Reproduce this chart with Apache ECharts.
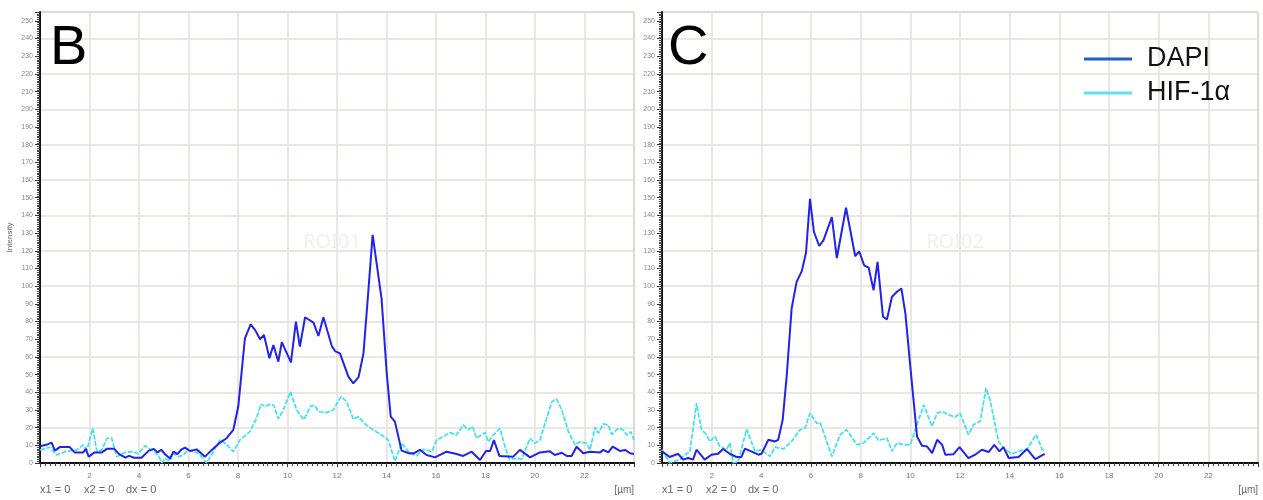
<!DOCTYPE html>
<html>
<head>
<meta charset="utf-8">
<script src="https://cdn.jsdelivr.net/npm/echarts@6/dist/echarts.min.js"></script>
<style>html,body{margin:0;padding:0;background:#fff}#c{width:1263px;height:500px}</style>
</head>
<body>
<div id="c"></div>
<script>
// Panel B (ROI01) profiles: [position µm, intensity]
var bDapi = [[0,9.5],[0.3,10.5],[0.47,11.5],[0.6,7],[0.8,9],[1.2,9],[1.4,6],[1.75,6],[1.85,8],[1.97,3.5],[2.2,6],[2.5,6],[2.7,8],[3.0,8],[3.2,5],[3.45,3],[3.6,4],[3.8,3],[4.1,3],[4.4,7],[4.6,8],[4.75,6],[4.9,7.5],[5.05,5],[5.25,2.5],[5.4,6.5],[5.55,5],[5.7,7.5],[5.86,8.7],[6.06,6.8],[6.33,7.7],[6.67,3.6],[6.94,7.4],[7.27,11.5],[7.54,14],[7.81,18.7],[8.01,31.9],[8.15,52],[8.28,70.5],[8.51,78.4],[8.7,75],[8.89,70],[9.05,72.4],[9.27,59.2],[9.43,66.7],[9.63,57.3],[9.77,68.3],[10.14,56.9],[10.34,79.9],[10.5,65.8],[10.71,82.4],[11.05,79.4],[11.25,71.8],[11.45,82.4],[11.79,66.2],[11.92,63.3],[12.12,62],[12.46,48.8],[12.66,45],[12.87,48.5],[13.07,62],[13.27,97.9],[13.44,129],[13.6,113],[13.8,93],[14.01,50.7],[14.17,26.2],[14.34,23.4],[14.61,7],[14.9,5.5],[15.1,5.5],[15.35,7.4],[15.62,4.5],[15.96,3.2],[16.43,6.4],[16.83,5.1],[17.1,4],[17.44,6.4],[17.78,1.7],[18.02,6.8],[18.19,6.8],[18.34,13],[18.56,4],[19.12,3.6],[19.39,7.4],[19.8,3.2],[20.2,6],[20.6,6.6],[20.8,4.5],[21.08,5.8],[21.28,4],[21.48,4],[21.68,9.2],[21.95,5.5],[22.22,6.4],[22.63,6],[22.76,7.4],[22.96,6],[23.14,9.2],[23.43,6.8],[23.64,7.4],[23.84,5.5],[24,5.1]];
var bHif = [[0,7.4],[0.4,8.9],[0.67,4.5],[1.0,6.4],[1.48,7.4],[1.75,10.2],[1.9,7.4],[2.13,19.6],[2.3,6.4],[2.5,7.4],[2.7,14],[2.9,14],[3.1,3.6],[3.43,6],[3.77,6.4],[3.97,5.1],[4.24,9.8],[4.5,7.4],[4.78,4.5],[4.92,0],[5.05,2.6],[5.25,1.1],[5.39,5.5],[5.59,3.6],[5.79,4.5],[5.99,7.4],[6.33,6],[6.6,2.6],[6.73,0],[7.0,6.4],[7.27,13],[7.54,10.6],[7.81,6.4],[8.08,13],[8.48,17.7],[8.75,25.3],[8.93,33.3],[9.09,31.9],[9.29,33.2],[9.45,32.5],[9.63,25],[9.83,30],[10.12,40.3],[10.37,30],[10.66,24.5],[10.95,32.5],[11.11,32.4],[11.25,29],[11.58,28.5],[11.85,30],[12.16,37.5],[12.39,34.7],[12.66,24.7],[12.86,26.2],[13.13,22.1],[13.47,18.7],[13.8,15.8],[14.07,13],[14.34,1],[14.61,11.3],[14.95,5.3],[15.22,4.2],[15.49,7.7],[15.83,6.4],[16.03,13],[16.3,14.9],[16.56,17.2],[16.83,15.8],[17.1,21.5],[17.3,18.7],[17.48,20.6],[17.64,14],[17.98,17.2],[18.11,12],[18.32,15.8],[18.58,19.6],[18.79,9.2],[18.96,2.1],[19.26,2.6],[19.46,2.1],[19.8,14],[20.0,11.1],[20.2,13],[20.68,34.7],[20.87,36.2],[21.08,30],[21.35,17.7],[21.62,10.2],[21.82,12],[22.09,11.1],[22.22,7.4],[22.43,20.2],[22.56,16.8],[22.76,22.1],[22.96,21.5],[23.1,16.2],[23.37,19.6],[23.57,18.7],[23.71,15.8],[23.87,17.7],[24,13]];
// Panel C (ROI02) profiles
var cDapi = [[0,6.6],[0.31,3.4],[0.65,5.2],[0.85,1.9],[1.05,2.8],[1.25,1.9],[1.39,7.5],[1.72,1.9],[1.99,4.7],[2.26,5.2],[2.46,7.9],[2.73,5.2],[3.0,3.4],[3.2,3.4],[3.34,8.1],[3.88,4.7],[4.01,5.2],[4.28,13.1],[4.55,12.2],[4.68,13.1],[4.86,24.4],[5.02,48.9],[5.22,87.4],[5.42,102.4],[5.63,108.5],[5.8,119],[5.96,149.4],[6.12,130.6],[6.33,122.7],[6.5,125.9],[6.84,139],[7.04,115.9],[7.41,144.3],[7.78,116.9],[7.94,119.7],[8.14,111.8],[8.32,110.5],[8.52,97.7],[8.68,113.7],[8.9,82.7],[9.06,81.2],[9.26,94],[9.46,96.8],[9.64,98.7],[9.8,84.6],[10.0,54.5],[10.27,15],[10.47,9.8],[10.67,9.4],[10.88,5.6],[11.08,13.1],[11.28,10.3],[11.41,4.7],[11.74,5],[11.98,9],[12.34,2.8],[12.61,4.7],[12.88,7.5],[13.15,6.2],[13.38,10.3],[13.59,6.6],[13.75,9],[13.96,2.8],[14.36,3.4],[14.7,7.9],[15.03,2.2],[15.41,5.2]];
var cHif = [[0,7.5],[0.31,0],[0.71,1.9],[0.92,4.7],[1.12,6.2],[1.39,33.8],[1.59,18.8],[1.79,16],[1.92,12.2],[2.13,15],[2.33,9.4],[2.6,7.5],[2.73,11.3],[2.87,0],[3.07,0.9],[3.41,19.2],[3.74,6.6],[4.01,7.5],[4.35,3.7],[4.55,9],[4.89,7.9],[5.22,12.2],[5.56,18.8],[5.76,19.7],[5.96,28.2],[6.23,22.5],[6.37,22.9],[6.84,3.7],[7.17,16],[7.44,18.8],[7.85,10.3],[8.12,11.3],[8.52,16.9],[8.72,12.8],[9.06,14.1],[9.26,6.6],[9.46,11.3],[9.73,10.3],[10.0,10.3],[10.2,18.8],[10.54,32.9],[10.87,20.7],[11.08,28.2],[11.28,29.1],[11.55,27.2],[11.8,25.9],[12.0,28.2],[12.34,16],[12.54,21.6],[12.81,23.5],[13.05,42.3],[13.21,35.7],[13.55,12.2],[13.82,7.5],[14.09,5.2],[14.36,6.6],[14.7,7.9],[15.07,16],[15.3,7.9],[15.41,6.6]];

var panelLabels = ['B', 'C'];
var roiLabels = ['ROI01', 'ROI02'];
var seriesNames = ['DAPI', 'HIF-1α'];
var xUnit = '[µm]';
var cursorTexts = ['x1 = 0', 'x2 = 0', 'dx = 0'];
var yName = 'Intensity';

var DAPI_COLOR = '#2222ea';
var HIF_COLOR = '#3ce2f2';
var FONT = 'Liberation Sans';

var grids = [
  {left: 40, top: 12, right: 629, bottom: 37},
  {left: 662, top: 12, right: 5, bottom: 37}
];

function xAxisFor(i) {
  return {
    type: 'value', gridIndex: i, min: 0, max: 24, interval: 2,
    axisLine: {show: true, onZero: false, lineStyle: {color: '#111', width: 2}},
    axisTick: {show: true, length: 4, lineStyle: {color: '#333'}},
    minorTick: {show: true, splitNumber: 10, length: 3, lineStyle: {color: '#444'}},
    axisLabel: {fontSize: 8, color: '#777', margin: 9, fontFamily: FONT,
      formatter: function (v) { return (v === 0 || v === 24) ? '' : String(v); }},
    splitLine: {show: true, lineStyle: {color: '#e4e1db', width: 1.5}}
  };
}
function yAxisFor(i) {
  return {
    type: 'value', gridIndex: i, min: 0, max: 255, interval: 10,
    name: i === 0 ? yName : '', nameLocation: 'middle', nameGap: 26, nameRotate: 90,
    nameTextStyle: {fontSize: 8, color: '#666', fontFamily: FONT},
    axisLine: {show: true, onZero: false, lineStyle: {color: '#111', width: 2}},
    axisTick: {show: true, length: 5, lineStyle: {color: '#333'}},
    minorTick: {show: true, splitNumber: 10, length: 3, lineStyle: {color: '#444'}},
    axisLabel: {fontSize: 7, color: '#888', margin: 7, fontFamily: FONT, showMaxLabel: false,
      formatter: function (v) { return v > 250 ? '' : String(v); }},
    splitLine: {show: false}
  };
}
function gridLineAxis(i) {
  return {
    type: 'value', gridIndex: i, min: 0, max: 255, interval: 20, position: 'right',
    axisLine: {show: false}, axisTick: {show: false}, axisLabel: {show: false},
    splitLine: {show: true, lineStyle: {color: '#e4e1db', width: 1.5}}
  };
}

function lineSeries(name, data, gi, color, dashed) {
  return {
    type: 'line', name: name, data: data, xAxisIndex: gi, yAxisIndex: gi,
    showSymbol: false, symbol: 'none', animation: false, z: dashed ? 2 : 3,
    lineStyle: {color: color, width: dashed ? 1.7 : 2, type: dashed ? [5, 1.5] : 'solid'},
    itemStyle: {color: color}
  };
}

var graphics = [];
[[50, 51], [668, 51]].forEach(function (p, i) {
  graphics.push({type: 'text', left: p[0], top: p[1] - 30, z: 10,
    style: {text: panelLabels[i], font: '56px "' + FONT + '"', fill: '#000'}});
});
[[332, 242], [955, 242]].forEach(function (p, i) {
  graphics.push({type: 'text', x: p[0], y: p[1], z: 1,
    style: {text: roiLabels[i], font: '20px "Noto Sans"', fill: '#f0f0f0', align: 'center', verticalAlign: 'middle'}});
});
[40, 662].forEach(function (x0) {
  [0, 44, 86].forEach(function (dx, k) {
    graphics.push({type: 'text', x: x0 + dx, y: 490,
      style: {text: cursorTexts[k], font: '11px "' + FONT + '"', fill: '#666', verticalAlign: 'middle'}});
  });
});
[634, 1258].forEach(function (xr) {
  graphics.push({type: 'text', x: xr, y: 490,
    style: {text: xUnit, font: '10px "' + FONT + '"', fill: '#666', align: 'right', verticalAlign: 'middle'}});
});

var chart = echarts.init(document.getElementById('c'), null, {renderer: 'canvas'});
chart.setOption({
  animation: false,
  backgroundColor: '#fff',
  grid: grids.map(function (g) {
    return Object.assign({show: true, borderColor: '#8a8a8a', borderWidth: 1, backgroundColor: 'transparent'}, g);
  }),
  xAxis: [xAxisFor(0), xAxisFor(1)],
  yAxis: [yAxisFor(0), yAxisFor(1), gridLineAxis(0), gridLineAxis(1)],
  legend: {
    left: 1079, top: 39, orient: 'vertical', itemWidth: 48, itemHeight: 3, itemGap: 4,
    icon: 'rect',
    textStyle: {fontSize: 27, fontFamily: FONT, color: '#111', lineHeight: 30, padding: [0, 0, 0, 10]},
    data: [
      {name: seriesNames[0], itemStyle: {color: '#1f5fc8'}},
      {name: seriesNames[1], itemStyle: {color: '#5fe0f5'}}
    ]
  },
  series: [
    lineSeries(seriesNames[1], bHif, 0, HIF_COLOR, true),
    lineSeries(seriesNames[0], bDapi, 0, DAPI_COLOR, false),
    lineSeries(seriesNames[1], cHif, 1, HIF_COLOR, true),
    lineSeries(seriesNames[0], cDapi, 1, DAPI_COLOR, false)
  ],
  graphic: graphics
});
</script>
</body>
</html>
